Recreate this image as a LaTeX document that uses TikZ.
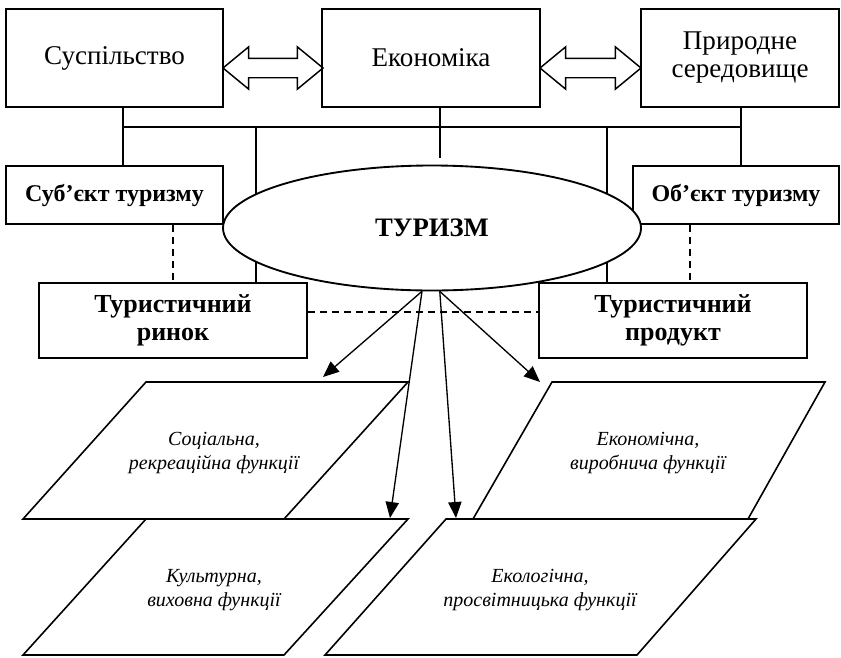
\documentclass[tikz,border=0pt]{standalone}
\usepackage{fontspec}
\setmainfont{Liberation Serif}
\usetikzlibrary{shapes.geometric,shapes.arrows,arrows.meta}

\begin{document}
\begin{tikzpicture}[x=0.75pt, y=-0.75pt,
    sphere/.style={draw, rectangle, line width=1.4pt, align=center, inner sep=0pt,
        minimum height=73.5pt, font=\fontsize{20.3}{21}\selectfont},
    sidebox/.style={draw, rectangle, line width=1.4pt, align=center, inner sep=0pt,
        minimum height=43.5pt, font=\bfseries\fontsize{18}{20}\selectfont},
    marketbox/.style={draw, rectangle, line width=1.4pt, align=center, inner sep=0pt,
        minimum width=201pt, minimum height=56.25pt, font=\bfseries\fontsize{19.5}{21}\selectfont},
    dblarrow/.style={draw, double arrow, line width=1.1pt, inner xsep=0pt, inner ysep=6.75pt,
        double arrow head extend=8.6pt, double arrow tip angle=79},
    link/.style={line width=1.2pt},
    dlink/.style={line width=1.1pt, dash pattern=on 5.5pt off 3.5pt},
    arr/.style={line width=1pt, -{Triangle[length=12pt, width=10pt]}},
    plane/.style={line width=1.2pt, line join=miter},
    func/.style={align=center, font=\itshape\fontsize{15}{17.5}\selectfont}]
    \useasboundingbox (0,0) rectangle (841,657);

    % Spheres
    \node[sphere, minimum width=162.75pt] (soc) at (114.5,58) {Суспільство};
    \node[sphere, minimum width=163.5pt] (eco) at (431,58) {Економіка};
    \node[sphere, minimum width=148.5pt] (nat) at (740,58) {Природне\\середовище};
    \node[dblarrow, minimum height=75pt] (arrL) at (273,68) {};
    \node[dblarrow, minimum height=75.75pt] (arrR) at (590.5,68) {};

    % Subject, object, market and product
    \node[sidebox, minimum width=162.75pt] (subj) at (114.5,195) {Суб’єкт туризму};
    \node[sidebox, minimum width=154.5pt] (obj) at (736,195) {Об’єкт туризму};
    \node[marketbox] (market) at (173,320.5) {Туристичний\\ринок};
    \node[marketbox] (product) at (673,320.5) {Туристичний\\продукт};

    % Bus lines
    \coordinate (busL) at (123,127);
    \coordinate (busR) at (741,127);
    \coordinate (legL) at (256,127);
    \coordinate (legR) at (607,127);
    \coordinate (ecoEnd) at (440,158);
    \draw[link] (soc.south -| busL) -- (subj.north -| busL);
    \draw[link] (nat.south -| busR) -- (obj.north -| busR);
    \draw[link] (busL) -- (busR);
    \draw[link] (eco.south -| ecoEnd) -- (ecoEnd);
    \draw[link] (legL) -- (legL |- market.north);
    \draw[link] (legR) -- (legR |- product.north);

    % Dashed links
    \coordinate (dashR) at (690,0);
    \coordinate (dashM) at (0,312);
    \draw[dlink] (subj.south -| market.north) -- (market.north);
    \draw[dlink] (obj.south -| dashR) -- (product.north -| dashR);
    \draw[dlink] (market.east |- dashM) -- (product.west |- dashM);

    % Tourism
    \node[draw, ellipse, fill=white, line width=1.4pt, inner sep=0pt,
        minimum width=313.5pt, minimum height=93.75pt,
        font=\bfseries\fontsize{20}{22}\selectfont] (tour) at (432,228) {ТУРИЗМ};

    % Functions
    \draw[plane] (146,382) -- (408,382) -- (284,519) -- (23,519) -- cycle;
    \draw[plane] (146,519) -- (408,519) -- (284,655) -- (23,655) -- cycle;
    \draw[plane] (552,382) -- (825,382) -- (748,519) -- (473,519) -- cycle;
    \draw[plane] (446,519) -- (756,519) -- (637,655) -- (325,655) -- cycle;
    \node[func] (socf) at (214,453) {Соціальна,\\рекреаційна функції};
    \node[func] (ecof) at (648,453) {Економічна,\\виробнича функції};
    \node[func] (culf) at (214,590) {Культурна,\\виховна функції};
    \node[func] (ecolf) at (540,590) {Екологічна,\\просвітницька функції};

    % Arrows to functions
    \coordinate (t1) at (323,377);
    \coordinate (t2) at (390,518);
    \coordinate (t3) at (456,518);
    \coordinate (t4) at (540,382);
    \draw[arr] (tour.261) -- (t1);
    \draw[arr] (tour.261) -- (t2);
    \draw[arr] (tour.277) -- (t3);
    \draw[arr] (tour.277) -- (t4);
\end{tikzpicture}
\end{document}
